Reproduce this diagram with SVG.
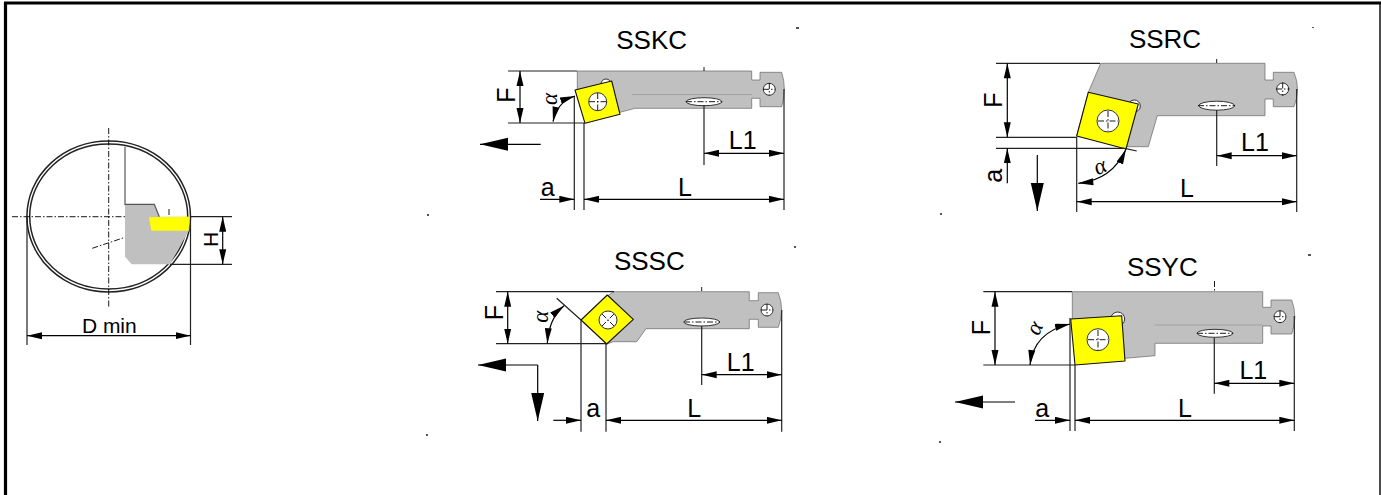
<svg xmlns="http://www.w3.org/2000/svg" width="1381" height="495" viewBox="0 0 1381 495">
<style>
text{font-family:"Liberation Sans",Arial,sans-serif;fill:#000;text-anchor:middle}
.t{font-size:26px}.d{font-size:25px}.s{font-size:21px}
.al{font-family:"Liberation Serif",serif;font-style:italic;font-size:23px}
.b{fill:#c0c0c0;stroke:#666;stroke-width:.7}
.y{fill:#ff0;stroke:#111;stroke-width:1.100;stroke-linejoin:round}
.h{fill:#fff;stroke:#333;stroke-width:1}
.c{fill:none;stroke:#000;stroke-width:.9;stroke-dasharray:6 2 1.500 2}
.l{fill:none;stroke:#222;stroke-width:1.200}
.m{fill:none;stroke:#000;stroke-width:1.200;marker-start:url(#as);marker-end:url(#ae)}
.e{fill:none;stroke:#000;stroke-width:1.200;marker-end:url(#ae)}
.f{fill:none;stroke:#000;stroke-width:1.200;marker-end:url(#big)}
.sp{fill:#555}
</style>
<defs>
<marker id="ae" markerUnits="userSpaceOnUse" markerWidth="16" markerHeight="8" refX="15" refY="3.500" orient="auto"><path d="M0 0L15 3.500L0 7z" fill="#000"/></marker>
<marker id="as" markerUnits="userSpaceOnUse" markerWidth="16" markerHeight="8" refX="0" refY="3.500" orient="auto"><path d="M15 0L0 3.500L15 7z" fill="#000"/></marker>
<marker id="big" markerUnits="userSpaceOnUse" markerWidth="30" markerHeight="14" refX="28" refY="6.500" orient="auto"><path d="M0 0L28 6.500L0 13z" fill="#000"/></marker>
</defs>
<rect width="1381" height="495" fill="#fff"/>
<g id="frame"><path d="M4 3H1381M5.500 2V495" fill="none" stroke="#000" stroke-width="3.200"/><path d="M1380 3V495" fill="none" stroke="#000" stroke-width="1.400"/></g>

<g id="bore-section">
<ellipse cx="108.700" cy="216.500" rx="81.800" ry="75.500" fill="none" stroke="#222" stroke-width="1.500"/>
<ellipse cx="108.700" cy="216.500" rx="79" ry="72.500" fill="none" stroke="#222" stroke-width="1.500"/>
<path d="M125 204.300H154.300L159.300 216.700H190L189.300 230L181.700 243.300L170 264.300H131.700L125 256.700z" fill="#c0c0c0"/>
<path d="M125 146.700V204.300H154.300L159.300 216.700" fill="none" stroke="#555" stroke-width="1.200"/>
<path d="M149 217.300L190 216.700L188.300 230.700H151.300z" fill="#ff0"/>
<path d="M108.700 128V306.700M12 216.700H125M92.300 248.300L125 237.300M169 209V216.700" class="c"/>
<path d="M190 216.700H232M170 264.300H232M27 216V345M190.500 216V345" class="l"/>
<path d="M222.700 216.700V264.300" class="m"/>
<path d="M27 335.700H190.500" class="m"/>
<text class="s" transform="translate(218 239.300) rotate(-90)">H</text>
<text class="s" x="109.300" y="332.700">D min</text>
</g>

<g id="SSKC">
<path d="M577.300 71H751.700V80H760V72.300H781.700Q787 89 781.700 106.700H760V98.300H751.700V108.300H635L620 112.300H600L577.300 90z" class="b"/>
<path d="M632 94.500H751.700" fill="none" stroke="#999" stroke-width=".8"/>
<circle cx="606" cy="84" r="5" class="h"/>
<path d="M575 90L611.700 81L620 114.300L585 123.300z" class="y"/>
<circle cx="597.700" cy="101.700" r="9" class="h"/>
<ellipse cx="704" cy="101.700" rx="18" ry="4" class="h"/>
<circle cx="769.300" cy="89.300" r="6" class="h"/>
<path d="M589 101.700H606.500M597.700 93V110.500M686 101.700H722M704 67V71M763 89.300H775.500M769.300 83V95.500" class="c"/>
<path d="M508 71H577M508 123H585M574.300 96V210M584 123V210M704 105V165M784 89V210" class="l"/>
<path d="M520 71V123" class="m"/>
<path d="M553 121.700Q557 102 575 96" class="m"/>
<path d="M704 153.300H784" class="m"/>
<path d="M584 199.300H784" class="m"/>
<path d="M540 199.300H574.300" class="e"/>
<path d="M540.700 144.300H480" class="f"/>
<text class="d" transform="translate(515 95) rotate(-90)">F</text>
<text class="al" transform="translate(557 99) rotate(-90)">α</text>
<text class="d" x="742.700" y="149.300">L1</text>
<text class="d" x="547.700" y="195.700">a</text>
<text class="d" x="685" y="195.700">L</text>
<text class="t" x="651.700" y="49">SSKC</text>
</g>

<g id="SSRC">
<path d="M1100.700 63.300H1265V80H1273.300V72.300H1294Q1301 89 1294 106.700H1273.300V99H1265V115.700H1157.300L1148.300 146.700H1125L1076.700 136L1088.300 92.300z" class="b"/>
<circle cx="1134.300" cy="106" r="6" class="h"/>
<path d="M1088.300 92.300L1138.300 104L1126 149L1076.700 136z" class="y"/>
<circle cx="1108" cy="121" r="11" class="h"/>
<ellipse cx="1216.700" cy="105.700" rx="18" ry="4.500" class="h"/>
<circle cx="1282.700" cy="89" r="6" class="h"/>
<path d="M1098 121H1118M1108 111V131M1198 105.700H1235M1216.700 59V63M1276 89H1289.500M1282.700 82.500V95.500" class="c"/>
<path d="M996 63.300H1100M996 137.300H1077M996 148.300H1125L1136.700 151M1076.700 137V212M1296.700 89V212M1216.700 110V166" class="l"/>
<path d="M1007.300 63.300V137.300" class="m"/>
<path d="M1007.300 183.300V148.300" class="e"/>
<path d="M1078.300 183.300Q1112 180 1126 149.300" class="m"/>
<path d="M1216.700 155.700H1296.700" class="m"/>
<path d="M1076.700 201.700H1296.700" class="m"/>
<path d="M1037.300 155V211" class="f"/>
<text class="d" transform="translate(1002.300 100) rotate(-90)">F</text>
<text class="d" transform="translate(1002.300 175.700) rotate(-90)">a</text>
<text class="al" transform="translate(1103 173) rotate(-25)">α</text>
<text class="d" x="1255" y="151">L1</text>
<text class="d" x="1187" y="196.700">L</text>
<text class="t" x="1165" y="48.300">SSRC</text>
</g>

<g id="SSSC">
<path d="M614 291.700H749.300V300.700H758.300V292.700H778.300Q785 310 778.300 327.300H758.300V319.300H749.300V328.700H646L636.700 341.700H613.300L607 344L607 296z" class="b"/>
<path d="M607.300 295L633.300 319.300L606.700 344L581 320z" class="y"/>
<circle cx="608" cy="320" r="9" class="h"/>
<ellipse cx="701.700" cy="322" rx="18" ry="4" class="h"/>
<circle cx="767" cy="310" r="6" class="h"/>
<path d="M602 314L614 326M614 314L602 326M684 322H720M701.700 287V291M761 310H773M767 304V316" class="c"/>
<path d="M496 291.700H614M496 343.700H607M556.700 298.300L581 320M581 320V431.700M606 344V431.700M781.700 310V431.700M701.700 326V385" class="l"/>
<path d="M507.700 291.700V343.700" class="m"/>
<path d="M547.300 343.300Q549 318 564 305.700" class="m"/>
<path d="M701.700 374.700H781.700" class="m"/>
<path d="M606 420.300H781.700" class="m"/>
<path d="M553.300 420.300H581" class="e"/>
<path d="M537.700 365H478" class="f"/>
<path d="M537.700 365V421" class="f"/>
<text class="d" transform="translate(503.300 312.700) rotate(-90)">F</text>
<text class="al" transform="translate(548 316.700) rotate(-90)">α</text>
<text class="d" x="740.700" y="370.700">L1</text>
<text class="d" x="593.300" y="416.700">a</text>
<text class="d" x="694.300" y="416.700">L</text>
<text class="t" x="649.300" y="270">SSSC</text>
</g>

<g id="SSYC">
<path d="M1072.300 291.700H1262.700V307.300H1271V300H1291.700Q1298 316.700 1291.700 334H1271V326H1262.700V343.300H1155V355.700L1125 358.300L1080 340L1072.300 319z" class="b"/>
<path d="M1155 325H1262.700" fill="none" stroke="#999" stroke-width=".8"/>
<circle cx="1117.700" cy="319" r="7" class="h"/>
<path d="M1070.700 319L1121.700 315.700L1125 361L1075 365z" class="y"/>
<circle cx="1098" cy="339.700" r="11" class="h"/>
<ellipse cx="1215" cy="333.300" rx="18" ry="4" class="h"/>
<circle cx="1280" cy="316.700" r="6" class="h"/>
<path d="M1088 339.700H1108M1098 330V350M1197 333.300H1233M1214.500 281V291M1274 316.700H1286M1280 310.500V323" class="c"/>
<path d="M983.300 291.700H1072M983.300 365H1075M1070 318V431M1075 365V431M1294.300 316V431M1214.300 338V393.700" class="l"/>
<path d="M995 291.700V365" class="m"/>
<path d="M1030 365Q1034 332 1070 324" class="m"/>
<path d="M1214.300 383.300H1294.300" class="m"/>
<path d="M1075 420.300H1294.300" class="m"/>
<path d="M1035 420.300H1070" class="e"/>
<path d="M1015 402H955" class="f"/>
<text class="d" transform="translate(990 327.700) rotate(-90)">F</text>
<text class="al" transform="translate(1041 331) rotate(-65)">α</text>
<text class="d" x="1253.300" y="379.300">L1</text>
<text class="d" x="1042.300" y="416.700">a</text>
<text class="d" x="1185" y="416.700">L</text>
<text class="t" x="1162.300" y="275.700">SSYC</text>
</g>

<g id="specks" class="sp">
<rect x="796" y="27" width="3" height="2"/><rect x="1312" y="27" width="2" height="1"/><rect x="427" y="214" width="2" height="2"/><rect x="940" y="213" width="2" height="2"/><rect x="794" y="246" width="2" height="2"/><rect x="1308" y="254" width="3" height="2"/><rect x="426" y="434" width="2" height="2"/><rect x="939" y="441" width="2" height="2"/>
</g>
</svg>
